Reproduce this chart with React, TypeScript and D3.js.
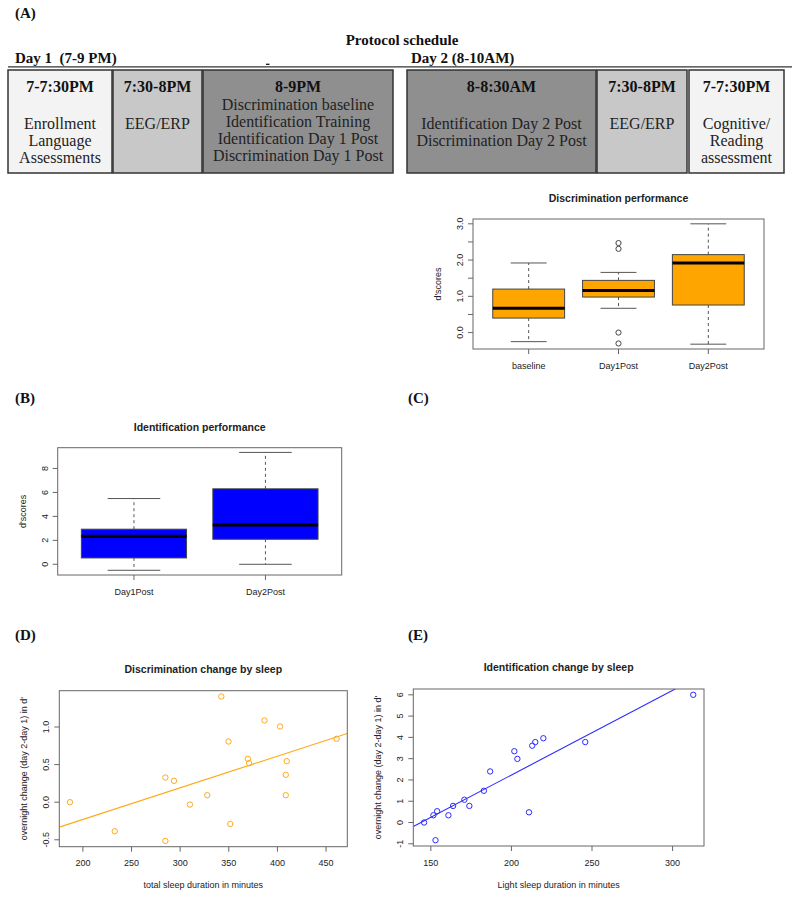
import React from "react";
import * as d3 from "d3";

// ---------- Data ----------
const scheduleTimes = ["7-7:30PM", "7:30-8PM", "8-9PM", "8-8:30AM", "7:30-8PM", "7-7:30PM"];
const scheduleTasks = [
  ["Enrollment", "Language", "Assessments"],
  ["EEG/ERP"],
  ["Discrimination baseline", "Identification Training", "Identification Day 1 Post", "Discrimination Day 1 Post"],
  ["Identification Day 2 Post", "Discrimination Day 2 Post"],
  ["EEG/ERP"],
  ["Cognitive/", "Reading", "assessment"],
];
const scheduleShades = ["#f3f3f3", "#c8c8c8", "#8f8f8f", "#8f8f8f", "#c8c8c8", "#f3f3f3"];

const discCategories = ["baseline", "Day1Post", "Day2Post"];
const discLow = [-0.25, 0.67, -0.32];
const discQ1 = [0.4, 0.98, 0.76];
const discMedian = [0.67, 1.16, 1.92];
const discQ3 = [1.2, 1.44, 2.15];
const discHigh = [1.92, 1.66, 3.0];
const discOutliers = [[], [2.47, 2.31, 0.0, -0.3], []];
const discYTicks = [0, 0.5, 1, 1.5, 2, 2.5, 3];
const discYLabels = ["0.0", "", "1.0", "", "2.0", "", "3.0"];

const idCategories = ["Day1Post", "Day2Post"];
const idLow = [-0.5, 0.0];
const idQ1 = [0.53, 2.09];
const idMedian = [2.34, 3.29];
const idQ3 = [2.93, 6.3];
const idHigh = [5.49, 9.34];
const idOutliers = [[], []];
const idYTicks = [0, 2, 4, 6, 8];
const idYLabels = ["0", "2", "4", "6", "8"];

const totalSleep = [186.7, 232.8, 284.8, 284.8, 293.7, 310.1, 327.9, 342.3, 349.7, 351.5, 369.6, 370.9, 386.7, 402.8, 408.6, 408.6, 409.6, 460.9];
const discChange = [0.0, -0.386, 0.328, -0.515, 0.284, -0.031, 0.093, 1.406, 0.807, -0.289, 0.577, 0.519, 1.087, 1.007, 0.364, 0.093, 0.546, 0.843];
const discXTicks = [200, 250, 300, 350, 400, 450];
const discChangeYTicks = [-0.5, 0, 0.5, 1.0];
const discChangeYLabels = ["-0.5", "0.0", "0.5", "1.0"];

const lightSleep = [145.8, 151.6, 152.9, 153.9, 160.9, 163.8, 170.8, 173.9, 182.9, 186.8, 201.8, 203.7, 210.9, 212.9, 214.8, 219.8, 245.8, 312.8];
const idChange = [0.0, 0.34, -0.83, 0.53, 0.34, 0.78, 1.07, 0.78, 1.49, 2.4, 3.35, 2.99, 0.48, 3.61, 3.78, 3.96, 3.78, 6.0];
const idXTicks = [150, 200, 250, 300];
const idChangeYTicks = [-1, 0, 1, 2, 3, 4, 5, 6];
const idChangeYLabels = ["-1", "0", "1", "2", "3", "4", "5", "6"];

// ---------- Layout ----------
const SERIF = "'Liberation Serif', 'Times New Roman', serif";
const SANS = "'Liberation Sans', Arial, Helvetica, sans-serif";
const boxEdges = [[8, 112], [113, 202], [203, 393], [407, 596], [597, 687], [689, 784]];
const FRAME = "#666";
const TXT = "#222";

type Frame = { l: number; r: number; t: number; b: number };

function YAxis({ y, frame, ticks, labels, title }: any) {
  const { l, t, b } = frame;
  return (
    <g>
      {ticks.map((v: number, i: number) => (
        <g key={i}>
          <line x1={l - 5} x2={l} y1={y(v)} y2={y(v)} stroke={FRAME} strokeWidth={1} />
          {labels[i] !== "" && (
            <text
              transform={`translate(${l - 10},${y(v)}) rotate(-90)`}
              textAnchor="middle"
              fontFamily={SANS}
              fontSize={9}
              fill={TXT}
            >
              {labels[i]}
            </text>
          )}
        </g>
      ))}
      <text
        transform={`translate(${l - 32},${(t + b) / 2}) rotate(-90)`}
        textAnchor="middle"
        fontFamily={SANS}
        fontSize={9}
        fill={TXT}
      >
        {title}
      </text>
    </g>
  );
}

function BoxPlot(props: any) {
  const { frame, title, titleY, cats, low, q1, med, q3, high, outliers, fill, yTicks, yLabels, yTitle } = props;
  const { l, r, t, b } = frame as Frame;
  const all = [...low, ...high, ...outliers.flat()];
  const [mn, mx] = d3.extent(all) as [number, number];
  const pad = (mx - mn) * 0.04;
  const y = d3.scaleLinear().domain([mn - pad, mx + pad]).range([b, t]);
  const n = cats.length;
  const x = d3.scaleLinear().domain([0.5 - 0.04 * n, n + 0.5 + 0.04 * n]).range([l, r]);
  const bw = (x(1) - x(0)) * 0.8;
  return (
    <g>
      <text x={(l + r) / 2} y={titleY} textAnchor="middle" fontFamily={SANS} fontWeight="bold" fontSize={10.5} fill={TXT}>
        {title}
      </text>
      {cats.map((c: string, i: number) => {
        const cx = x(i + 1);
        return (
          <g key={c}>
            <line x1={cx} x2={cx} y1={y(q3[i])} y2={y(high[i])} stroke="#555" strokeDasharray="3,3" />
            <line x1={cx} x2={cx} y1={y(q1[i])} y2={y(low[i])} stroke="#555" strokeDasharray="3,3" />
            <line x1={cx - bw / 4} x2={cx + bw / 4} y1={y(high[i])} y2={y(high[i])} stroke="#555" />
            <line x1={cx - bw / 4} x2={cx + bw / 4} y1={y(low[i])} y2={y(low[i])} stroke="#555" />
            <rect x={cx - bw / 2} y={y(q3[i])} width={bw} height={y(q1[i]) - y(q3[i])} fill={fill} stroke="#444" strokeWidth={1} />
            <line x1={cx - bw / 2} x2={cx + bw / 2} y1={y(med[i])} y2={y(med[i])} stroke="#000" strokeWidth={3} />
            {outliers[i].map((o: number, j: number) => (
              <circle key={j} cx={cx} cy={y(o)} r={2.6} fill="none" stroke="#444" strokeWidth={1} />
            ))}
            <line x1={cx} x2={cx} y1={b} y2={b + 5} stroke={FRAME} />
            <text x={cx} y={b + 19.5} textAnchor="middle" fontFamily={SANS} fontSize={9} fill={TXT}>
              {c}
            </text>
          </g>
        );
      })}
      <rect x={l} y={t} width={r - l} height={b - t} fill="none" stroke={FRAME} strokeWidth={1} />
      <YAxis y={y} frame={frame} ticks={yTicks} labels={yLabels} title={yTitle} />
    </g>
  );
}

function Scatter(props: any) {
  const { id, frame, title, titleY, xs, ys, color, xTicks, yTicks, yLabels, xTitle, yTitle } = props;
  const { l, r, t, b } = frame as Frame;
  const [x0, x1] = d3.extent(xs) as [number, number];
  const [y0, y1] = d3.extent(ys) as [number, number];
  const px = (x1 - x0) * 0.04;
  const py = (y1 - y0) * 0.04;
  const x = d3.scaleLinear().domain([x0 - px, x1 + px]).range([l, r]);
  const y = d3.scaleLinear().domain([y0 - py, y1 + py]).range([b, t]);
  const mxv = d3.mean(xs) as number;
  const myv = d3.mean(ys) as number;
  const sxy = d3.sum(xs, (v: number, i: number) => (v - mxv) * (ys[i] - myv));
  const sxx = d3.sum(xs, (v: number) => (v - mxv) * (v - mxv));
  const slope = sxy / sxx;
  const intercept = myv - slope * mxv;
  const [d0, d1] = x.domain();
  const linePath = d3.line<number>().x((d) => x(d)).y((d) => y(intercept + slope * d))([d0, d1]) || "";
  return (
    <g>
      <defs>
        <clipPath id={id}>
          <rect x={l} y={t} width={r - l} height={b - t} />
        </clipPath>
      </defs>
      <text x={(l + r) / 2} y={titleY} textAnchor="middle" fontFamily={SANS} fontWeight="bold" fontSize={10.5} fill={TXT}>
        {title}
      </text>
      <path d={linePath} stroke={color} strokeWidth={1.1} fill="none" clipPath={`url(#${id})`} />
      {xs.map((v: number, i: number) => (
        <circle key={i} cx={x(v)} cy={y(ys[i])} r={2.7} fill="none" stroke={color} strokeWidth={1} />
      ))}
      <rect x={l} y={t} width={r - l} height={b - t} fill="none" stroke={FRAME} strokeWidth={1} />
      {xTicks.map((v: number) => (
        <g key={v}>
          <line x1={x(v)} x2={x(v)} y1={b} y2={b + 5} stroke={FRAME} />
          <text x={x(v)} y={b + 19.5} textAnchor="middle" fontFamily={SANS} fontSize={9} fill={TXT}>
            {v}
          </text>
        </g>
      ))}
      <text x={(l + r) / 2} y={b + 41.5} textAnchor="middle" fontFamily={SANS} fontSize={9} fill={TXT}>
        {xTitle}
      </text>
      <YAxis y={y} frame={frame} ticks={yTicks} labels={yLabels} title={yTitle} />
    </g>
  );
}

function Schedule() {
  const top = 70;
  const bottom = 173;
  return (
    <g>
      <text x={15} y={17.5} fontFamily={SERIF} fontWeight="bold" fontSize={15} fill="#111">(A)</text>
      <text x={402} y={45} textAnchor="middle" fontFamily={SERIF} fontWeight="bold" fontSize={15} fill="#111">
        Protocol schedule
      </text>
      <text x={15} y={63} fontFamily={SERIF} fontWeight="bold" fontSize={15} fill="#111" xmlSpace="preserve" style={{ whiteSpace: "pre" }}>
        {"Day 1  (7-9 PM)"}
      </text>
      <text x={411} y={62.5} fontFamily={SERIF} fontWeight="bold" fontSize={15} fill="#111">
        Day 2 (8-10AM)
      </text>
      <line x1={266} x2={269.5} y1={64.3} y2={64.3} stroke="#111" strokeWidth={1.3} />
      <line x1={8} x2={792} y1={66.8} y2={66.8} stroke="#333" strokeWidth={1.2} />
      {scheduleTimes.map((tm, i) => {
        const [x0, x1] = boxEdges[i];
        const cx = (x0 + x1) / 2;
        const tasks = scheduleTasks[i];
        const start = tasks.length > 3 ? 109.5 : 128.5;
        return (
          <g key={i}>
            <rect x={x0} y={top} width={x1 - x0} height={bottom - top} fill={scheduleShades[i]} stroke="#333" strokeWidth={1.5} />
            <text x={cx} y={92} textAnchor="middle" fontFamily={SERIF} fontWeight="bold" fontSize={16} fill="#111">
              {tm}
            </text>
            {tasks.map((s, j) => (
              <text key={j} x={cx} y={start + j * 17} textAnchor="middle" fontFamily={SERIF} fontSize={16} fill="#222">
                {s}
              </text>
            ))}
          </g>
        );
      })}
    </g>
  );
}

function PanelLabel({ x, y, label }: { x: number; y: number; label: string }) {
  return (
    <text x={x} y={y} fontFamily={SERIF} fontWeight="bold" fontSize={15} fill="#111">
      {label}
    </text>
  );
}

export default function App() {
  return (
    <svg
      width={800}
      height={898}
      viewBox="0 0 800 898"
      style={{ position: "absolute", left: 0, top: 0, background: "#fff" }}
    >
      <rect width={800} height={898} fill="#fff" />
      <Schedule />
      <BoxPlot
        frame={{ l: 473, r: 764, t: 219, b: 349 }}
        title="Discrimination performance"
        titleY={202}
        cats={discCategories}
        low={discLow}
        q1={discQ1}
        med={discMedian}
        q3={discQ3}
        high={discHigh}
        outliers={discOutliers}
        fill="#FFA500"
        yTicks={discYTicks}
        yLabels={discYLabels}
        yTitle="d'scores"
      />
      <PanelLabel x={15} y={402.5} label="(B)" />
      <PanelLabel x={408} y={402.5} label="(C)" />
      <BoxPlot
        frame={{ l: 57.7, r: 341.7, t: 447.7, b: 575 }}
        title="Identification performance"
        titleY={431.3}
        cats={idCategories}
        low={idLow}
        q1={idQ1}
        med={idMedian}
        q3={idQ3}
        high={idHigh}
        outliers={idOutliers}
        fill="#0000FF"
        yTicks={idYTicks}
        yLabels={idYLabels}
        yTitle="d'scores"
      />
      <PanelLabel x={15} y={640} label="(D)" />
      <PanelLabel x={408} y={640} label="(E)" />
      <Scatter
        id="clipD"
        frame={{ l: 59.3, r: 347.3, t: 690.7, b: 846.7 }}
        title="Discrimination change by sleep"
        titleY={673}
        xs={totalSleep}
        ys={discChange}
        color="#FFAA1A"
        xTicks={discXTicks}
        yTicks={discChangeYTicks}
        yLabels={discChangeYLabels}
        xTitle="total sleep duration in minutes"
        yTitle="overnight change (day 2-day 1) in d'"
      />
      <Scatter
        id="clipE"
        frame={{ l: 413.3, r: 704, t: 689, b: 846 }}
        title="Identification change by sleep"
        titleY={670.5}
        xs={lightSleep}
        ys={idChange}
        color="#2b2bff"
        xTicks={idXTicks}
        yTicks={idChangeYTicks}
        yLabels={idChangeYLabels}
        xTitle="Light sleep duration in minutes"
        yTitle="overnight change (day 2-day 1) in d'"
      />
    </svg>
  );
}
